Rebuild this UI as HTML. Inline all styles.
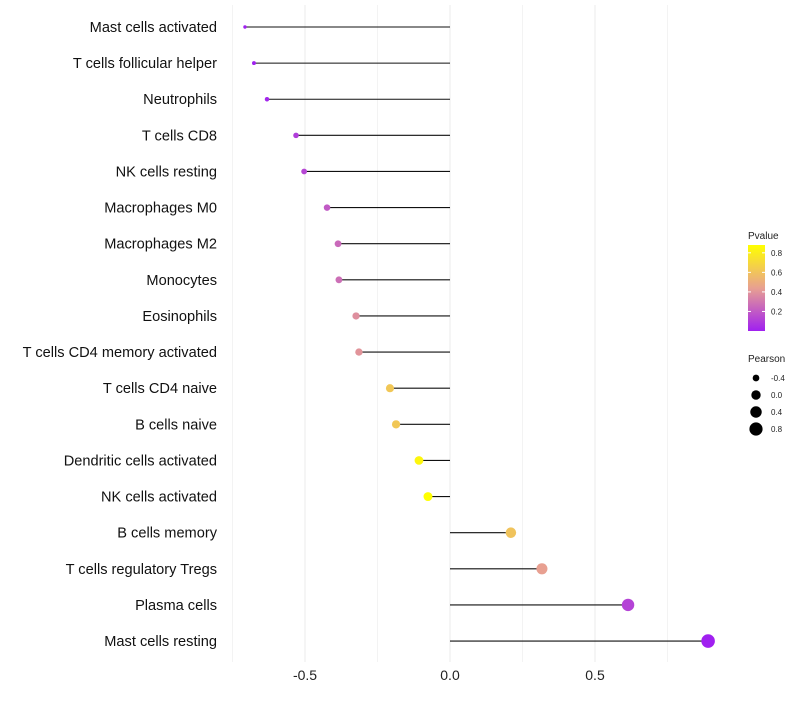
<!DOCTYPE html>
<html><head><meta charset="utf-8"><style>
body{margin:0;background:#fff;font-family:"Liberation Sans",sans-serif}
</style></head><body>
<svg id="chart" width="800" height="700" xmlns="http://www.w3.org/2000/svg" font-family="Liberation Sans, sans-serif"></svg>
<script>
const categories=["Mast cells activated","T cells follicular helper","Neutrophils","T cells CD8","NK cells resting","Macrophages M0","Macrophages M2","Monocytes","Eosinophils","T cells CD4 memory activated","T cells CD4 naive","B cells naive","Dendritic cells activated","NK cells activated","B cells memory","T cells regulatory  Tregs ","Plasma cells","Mast cells resting"];
const pearson=[-0.707,-0.676,-0.631,-0.531,-0.503,-0.424,-0.386,-0.383,-0.324,-0.314,-0.207,-0.186,-0.107,-0.076,0.21,0.317,0.614,0.89];
const pvalues=[0.001,0.003,0.02,0.1,0.13,0.2,0.25,0.27,0.38,0.4,0.62,0.62,0.84,0.88,0.6,0.44,0.12,0.001];
const xTicks=[-0.5,0,0.5];
const xTickLabels=["-0.5","0.0","0.5"];
const pTicks=[0.2,0.4,0.6,0.8];
const sizeBreaks=[-0.4,0,0.4,0.8];

const svg=document.getElementById('chart');
const NS="http://www.w3.org/2000/svg";
function mk(t,a,p){const e=document.createElementNS(NS,t);for(const k in a)e.setAttribute(k,a[k]);(p||svg).appendChild(e);return e;}
const X=v=>450+v*290;
const Y=i=>27+i*36.12;
const R=v=>Math.sqrt(Math.max(0.5,22+27*v));
const pMax=0.88;
function lerp(a,b,t){return a.map((x,i)=>Math.round(x+(b[i]-x)*t));}
function color(p){const t=Math.min(1,Math.max(0,p/pMax));const lo=[160,32,240],mid=[232,160,145],hi=[255,255,0];
 const c=t<0.5?lerp(lo,mid,t/0.5):lerp(mid,hi,(t-0.5)/0.5);return `rgb(${c})`;}

[-0.75,-0.5,-0.25,0,0.25,0.5,0.75].forEach(v=>{const g=mk('line',{x1:X(v),x2:X(v),y1:5,y2:662,stroke:'#ebebeb','stroke-width':xTicks.includes(v)?1:0.6});
});
xTicks.forEach((v,i)=>{const t=mk('text',{x:X(v),y:680,'text-anchor':'middle','font-size':14,fill:'#222'});t.textContent=xTickLabels[i];
});
categories.forEach((c,i)=>{
 const t=mk('text',{x:217,y:Y(i)+5,'text-anchor':'end','font-size':14.6,fill:'#111'});t.textContent=c;
 
 const l=mk('line',{x1:X(0),x2:X(pearson[i]),y1:Y(i),y2:Y(i),stroke:'#111','stroke-width':1.1});
 
 const d=mk('circle',{cx:X(pearson[i]),cy:Y(i),r:R(pearson[i]),fill:color(pvalues[i])});
 
});
const defs=mk('defs',{});const gr=mk('linearGradient',{id:'pg',x1:0,y1:1,x2:0,y2:0},defs);
[0,0.25,0.5,0.75,1].forEach(s=>mk('stop',{offset:s,'stop-color':color(s*pMax)},gr));
let t=mk('text',{x:748,y:239,'font-size':10,fill:'#222'});t.textContent='Pvalue';

const bar=mk('rect',{x:748,y:245,width:17,height:86,fill:'url(#pg)'});

const PY=p=>331-p/pMax*86;
pTicks.forEach(p=>{mk('line',{x1:748,x2:751,y1:PY(p),y2:PY(p),stroke:'#fff'});mk('line',{x1:762,x2:765,y1:PY(p),y2:PY(p),stroke:'#fff'});
 const tt=mk('text',{x:771,y:PY(p)+3,'font-size':8,fill:'#222'});tt.textContent=p.toFixed(1);
 });
t=mk('text',{x:748,y:362,'font-size':10,fill:'#222'});t.textContent='Pearson';

sizeBreaks.forEach((v,i)=>{const y=378+i*17;
 const c=mk('circle',{cx:756,cy:y,r:R(v),fill:'#000'});
 const tt=mk('text',{x:771,y:y+3,'font-size':8,fill:'#222'});tt.textContent=v.toFixed(1);
 });
</script>
</body></html>
